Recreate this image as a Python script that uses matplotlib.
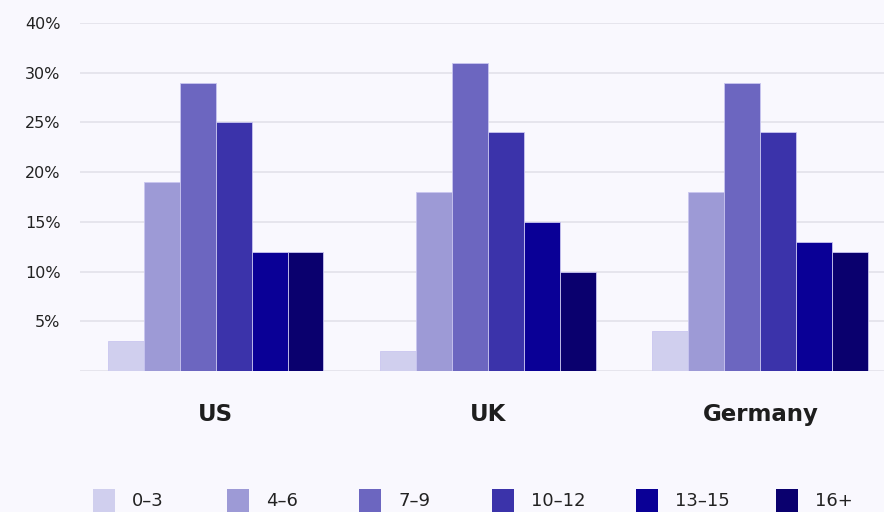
import matplotlib.pyplot as plt
from matplotlib.patches import Rectangle
import numpy as np

countries = ["US", "UK", "Germany"]
age_groups = ["0–3", "4–6", "7–9", "10–12", "13–15", "16+"]
share_us = [3, 19, 29, 25, 12, 12]
share_uk = [2, 18, 31, 24, 15, 10]
share_de = [4, 18, 29, 24, 13, 12]
ytick_vals = [0, 5, 10, 15, 20, 25, 30, 35]
ytick_labels = ["", "5%", "10%", "15%", "20%", "25%", "30%", "40%"]

COLORS = ["#d0cfee", "#9d9ad6", "#6c66c0", "#3b33aa", "#0a0096", "#0a006e"]
BG = "#f9f8fe"
W, H = 884, 512

plt.rcParams["font.family"] = ["DejaVu Sans"]

fig = plt.figure(figsize=(W / 100, H / 100), dpi=100, facecolor=BG)
ax = fig.add_axes([80 / W, 141 / H, 804 / W, 348 / H])
ax.set_facecolor(BG)

data = np.array([share_us, share_uk, share_de])
x = np.arange(len(countries))
width = 0.132
for i, color in enumerate(COLORS):
    offs = (i - 2.5) * width
    ax.bar(x + offs, data[:, i], width, color=color,
           edgecolor="#c9c6f0", linewidth=0.6, zorder=3)

ax.set_xlim(-0.498, 2.454)
ax.set_ylim(0, 35)
ax.set_yticks(ytick_vals)
ax.set_yticklabels(ytick_labels, fontsize=11.5, color="#222222")
ax.set_xticks(x)
ax.set_xticklabels(countries, fontsize=16.5, fontweight="bold", color="#1e1e1e")
ax.tick_params(axis="y", length=0, pad=14)
ax.tick_params(axis="x", length=0, pad=23)
ax.grid(axis="y", color="#e3e2ea", linewidth=1.2, zorder=0)
for s in ax.spines.values():
    s.set_visible(False)

# legend row along the bottom edge: swatch left edges in pixels
swatch_x = [93, 227, 359, 492, 636, 776]
for px, label, color in zip(swatch_x, age_groups, COLORS):
    fig.patches.append(Rectangle((px / W, -4 / H), 22 / W, 27 / H,
                                 transform=fig.transFigure, facecolor=color,
                                 edgecolor="none"))
    fig.text((px + 39) / W, 11 / H, label, fontsize=13, color="#222222",
             ha="left", va="center")

fig.savefig("out.png", dpi=100, facecolor=BG)
